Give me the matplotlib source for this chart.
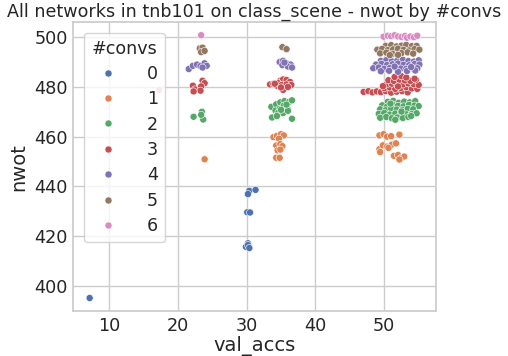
import matplotlib
matplotlib.use("Agg")
import matplotlib.pyplot as plt
import seaborn as sns
import pandas as pd

# points, grouped by #convs
acc_0 = [7.2, 30.4, 31.3, 30.2, 30.1, 30.5, 30.2, 29.9, 30.2, 30.4]
nwot_0 = [395.1, 438.2, 438.6, 436.9, 429.6, 429.5, 417.1, 415.7, 416.4, 415.2]

acc_1 = [23.9,
         33.9, 34.4, 35.0, 35.4, 34.7, 34.3, 34.9, 35.2, 34.5, 34.9, 34.3, 34.8,
         49.3, 49.9, 50.4, 51.0, 52.2, 49.3, 49.8, 50.4, 51.1, 51.7, 50.6, 49.4,
         51.4, 52.0, 52.5, 52.9, 52.2]
nwot_1 = [450.9,
          459.8, 460.3, 461.0, 460.5, 459.2, 456.4, 457.0, 456.2, 454.5, 454.8, 451.5, 451.5,
          460.5, 461.0, 460.0, 460.2, 460.8, 455.0, 456.5, 456.0, 456.8, 457.3, 455.5, 453.8,
          452.3, 452.6, 451.5, 452.0, 450.8]

acc_2 = [22.3, 23.5, 23.7, 23.4,
         33.6, 34.3, 34.9, 35.5, 36.2, 36.6, 34.2, 34.8, 35.4, 36.0, 34.6, 35.3, 36.0,
         33.7, 34.4, 36.6, 35.0, 35.8,
         50.5, 51.3, 52.1, 52.9, 53.7, 54.5,
         49.7, 50.4, 51.2, 52.0, 52.8, 53.6, 54.4, 55.0,
         49.4, 50.2, 51.0, 51.8, 52.6, 53.4, 54.2,
         49.2, 50.0, 50.8, 51.6, 52.4, 53.2, 54.0, 54.7,
         49.4, 50.3, 51.1, 51.9, 52.7, 53.5,
         50.9, 52.5, 53.9, 51.6]
nwot_2 = [468.0, 470.0, 466.9, 468.8,
          472.0, 473.0, 473.8, 474.3, 474.0, 474.6, 470.5, 471.2, 472.5, 471.0, 469.6, 469.5, 470.4,
          467.7, 468.3, 467.2, 470.8, 472.9,
          474.0, 474.4, 473.6, 474.1, 473.8, 474.3,
          472.6, 472.1, 472.9, 472.4, 472.2, 472.8, 472.5, 472.3,
          471.0, 470.6, 471.4, 470.9, 470.7, 471.2, 471.0,
          469.2, 469.5, 468.9, 469.3, 469.6, 469.0, 469.1, 469.4,
          467.6, 467.9, 467.4, 467.7, 467.5, 467.9,
          473.3, 470.1, 468.3, 466.8]

acc_3 = [22.2, 22.5, 23.6, 23.9, 23.4, 23.3, 22.3,
         33.4, 33.9, 34.4, 34.9, 35.3, 35.8, 36.3, 34.6, 35.1, 35.8, 36.5, 35.3, 34.1, 36.0, 35.0,
         47.0, 47.7, 48.3, 48.9, 49.5, 50.2, 51.0, 51.8, 52.6, 53.4,
         50.0, 50.8, 51.6, 52.4, 53.2, 54.0, 54.8,
         50.3, 51.1, 51.9, 52.7, 53.5, 54.3, 55.0,
         50.6, 51.4, 52.2, 53.0, 53.8, 54.6,
         51.5, 52.5, 53.2, 49.8, 52.0, 54.4]
nwot_3 = [480.5, 479.0, 482.5, 481.5, 480.2, 478.5, 478.2,
          481.0, 481.2, 480.5, 482.5, 483.0, 482.8, 482.0, 481.5, 480.8, 481.0, 480.8, 478.8, 481.3, 480.0, 479.8,
          478.0, 478.3, 477.8, 478.2, 477.9, 478.3, 477.7, 478.1, 478.3, 477.8,
          479.5, 479.8, 479.2, 479.6, 479.9, 479.4, 479.2,
          481.0, 481.3, 480.7, 481.0, 481.4, 481.1, 480.8,
          482.7, 482.4, 482.9, 482.6, 482.4, 482.9,
          484.0, 484.3, 483.8, 480.3, 480.2, 483.3]

acc_4 = [21.6, 22.2, 22.8, 23.3, 23.9, 24.2, 23.6,
         34.8, 35.3, 35.8, 36.4, 35.2, 36.0, 36.6, 35.5,
         49.5, 50.3, 51.1, 51.9, 52.7, 53.5, 54.3, 55.0,
         48.8, 49.6, 50.4, 51.2, 52.0, 52.8, 53.6, 54.4, 55.1,
         48.4, 49.2, 50.0, 50.8, 51.6, 52.4, 53.2, 54.0, 54.8,
         49.5, 50.7, 52.0, 53.3, 54.5, 51.5, 53.9]
nwot_4 = [487.2, 488.5, 489.0, 488.4, 489.5, 488.5, 487.8,
          490.0, 490.5, 489.5, 489.0, 488.8, 488.2, 487.8, 489.8,
          490.5, 490.8, 490.3, 490.6, 490.9, 490.4, 490.2, 490.7,
          489.0, 489.3, 488.8, 489.1, 489.4, 488.9, 488.7, 489.2, 489.0,
          487.5, 487.8, 487.3, 487.6, 487.9, 487.4, 487.3, 487.7, 487.5,
          486.3, 486.5, 486.1, 486.4, 486.6, 488.2, 488.0]

acc_5 = [23.2, 23.6, 23.4, 23.9,
         35.2, 35.8,
         50.2, 51.0, 51.8, 52.5, 53.2, 54.0, 54.7,
         49.0, 49.7, 50.5, 51.3, 52.0, 52.8, 53.6, 54.4, 55.1,
         49.4, 50.3, 51.2, 52.5, 53.4, 54.2,
         50.8, 52.0]
nwot_5 = [495.5, 495.8, 494.0, 494.5,
          496.0, 495.2,
          496.5, 496.8, 496.3, 496.6, 496.9, 496.4, 496.5,
          495.0, 495.3, 494.8, 495.1, 495.4, 494.9, 494.7, 495.2, 495.0,
          493.5, 493.8, 493.3, 493.6, 493.9, 493.4,
          492.8, 492.9]

acc_6 = [17.3, 23.4,
         49.9, 50.5, 51.0, 51.5, 52.0, 52.5, 53.0, 53.3, 53.8, 54.3, 54.8]
nwot_6 = [478.8, 500.8,
          500.2, 500.6, 500.4, 500.8, 500.3, 500.1, 500.5, 499.8, 500.3, 500.0, 500.6]

groups = [(acc_0, nwot_0), (acc_1, nwot_1), (acc_2, nwot_2), (acc_3, nwot_3),
          (acc_4, nwot_4), (acc_5, nwot_5), (acc_6, nwot_6)]
conv_levels = ["0", "1", "2", "3", "4", "5", "6"]

rows = []
for lvl, (xs, ys) in zip(conv_levels, groups):
    for x, y in zip(xs, ys):
        rows.append({"val_accs": x, "nwot": y, "#convs": lvl})
df = pd.DataFrame(rows)

sns.set_theme(style="whitegrid")

fig = plt.figure(figsize=(5.08, 3.56), dpi=100)
ax = fig.add_axes([0.144, 0.126, 0.714, 0.812])
sns.scatterplot(data=df, x="val_accs", y="nwot", hue="#convs", hue_order=conv_levels,
                palette="deep", s=26, ax=ax)
ax.set_title("All networks in tnb101 on class_scene - nwot by #convs", fontsize=12.6, pad=4)
ax.set_xlabel("val_accs", fontsize=14, labelpad=1)
ax.set_ylabel("nwot", fontsize=14, labelpad=4)
ax.tick_params(labelsize=12.7, length=0, pad=4)
ax.legend(title="#convs", loc="upper left", fontsize=12.6, title_fontsize=12.6,
          labelspacing=0.42, borderaxespad=0.6, handletextpad=1.2)

fig.savefig("out.png", dpi=100)
